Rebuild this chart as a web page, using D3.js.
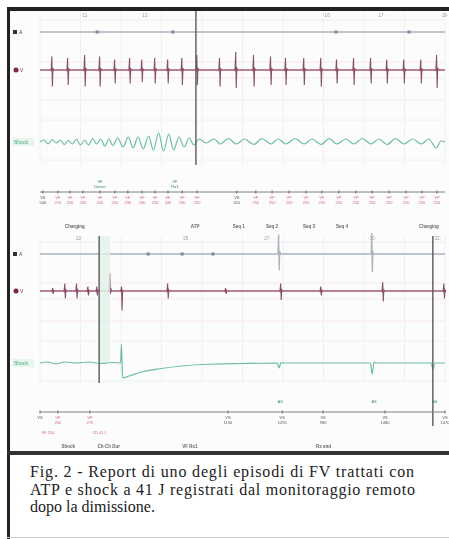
<!DOCTYPE html>
<html>
<head>
<meta charset="utf-8">
<script src="https://cdn.jsdelivr.net/npm/d3@7"></script>
<style>
body { margin: 0; background: #fff; }
svg { display: block; }
</style>
</head>
<body>
<svg id="report"></svg>
<script>
// strip time in seconds, both strips about 10 s wide
var stripDomain = [0, 10]
var gridSeconds = [0, 1, 2, 3, 4, 5, 6, 7, 8, 9, 10]

// ---- top strip (VF detected, ATP during charge)
var topTickTimes = [1.11, 2.59, 7.09, 8.42, 9.98]
var topTickText = ["·11·", "·12·", "·16·", "·17·", "·18·"]
var topAMarks = [1.41, 3.28, 7.31, 9.11]
var topVBeats = [0.30, 0.69, 1.11, 1.48, 1.85, 2.22, 2.52, 2.84, 3.16, 3.51, 3.88, 4.44, 4.84, 5.28, 5.70, 6.07, 6.52, 6.94, 7.33, 7.75, 8.17, 8.57, 8.99, 9.41, 9.80]
var topVUp   = [0.9, 0.8, 1.0, 0.9, 0.7, 0.8, 0.7, 0.8, 0.7, 0.8, 1.0, 0.8, 1.2, 1.0, 0.9, 0.8, 0.8, 0.8, 0.7, 0.8, 0.8, 0.7, 0.7, 0.7, 1.0]
var topVDown = [1.1, 1.0, 1.1, 1.1, 0.9, 0.9, 0.8, 0.9, 0.9, 1.0, 1.0, 1.1, 1.2, 1.1, 1.0, 1.0, 1.0, 1.1, 0.9, 1.0, 0.9, 0.9, 0.9, 0.9, 1.2]
var topShockTrace = [
  [0.00, 0], [0.10, 0.2], [0.20, -0.2], [0.30, 0.25], [0.40, -0.1], [0.50, 0.2], [0.60, -0.25], [0.70, 0.15],
  [0.80, -0.2], [0.90, 0.3], [1.00, -0.3], [1.10, 0.2], [1.20, -0.3], [1.30, 0.35], [1.40, -0.2], [1.50, 0.3],
  [1.60, -0.4], [1.70, 0.3], [1.80, -0.35], [1.92, 0.4], [2.05, -0.5], [2.18, 0.5], [2.30, -0.6], [2.42, 0.5],
  [2.55, -0.7], [2.68, 0.6], [2.80, -0.8], [2.93, 0.9], [3.05, -0.9], [3.18, 0.8], [3.30, -0.8], [3.43, 0.5],
  [3.56, -0.5], [3.68, 0.4], [3.80, -0.3], [3.93, 0.3], [4.10, -0.1], [4.30, 0.3], [4.45, -0.2], [4.65, 0.35],
  [4.85, -0.2], [5.05, 0.3], [5.28, -0.25], [5.48, 0.35], [5.70, -0.2], [5.88, 0.3], [6.07, -0.2], [6.30, 0.35],
  [6.52, -0.2], [6.72, 0.3], [6.94, -0.25], [7.14, 0.35], [7.33, -0.2], [7.55, 0.3], [7.75, -0.2], [7.96, 0.35],
  [8.17, -0.2], [8.37, 0.3], [8.57, -0.25], [8.78, 0.35], [8.99, -0.2], [9.20, 0.3], [9.41, -0.2], [9.60, 0.3],
  [9.78, -0.6], [9.90, 0.1], [10.0, 0]
]
var topEventTimes = [3.85]
var topAboveTimes = [1.48, 3.33]
var topAboveCode = ["VF", "VF"]
var topAboveText = ["Detect", "Rx1"]
var topMarkTimes = [0.07, 0.44, 0.74, 1.06, 1.48, 1.85, 2.17, 2.52, 2.84, 3.16, 3.51, 3.88, 4.86, 5.33, 5.73, 6.15, 6.57, 6.96, 7.38, 7.80, 8.20, 8.62, 9.04, 9.43, 9.80]
var topMarkCode  = ["VS", "VF", "VF", "VF", "VF", "VF", "VF", "VF", "VF", "VF", "VF", "VF", "VS", "VP", "VP", "VP", "VP", "VP", "VP", "VP", "VP", "VP", "VP", "VP", "VP"]
var topMarkMs    = ["540", "270", "250", "260", "240", "250", "230", "240", "250", "240", "230", "250", "310", "250", "250", "250", "250", "250", "250", "250", "250", "250", "250", "250", "250"]
var topStatusTimes = [0.86, 3.83, 4.91, 5.73, 6.64, 7.46, 9.60]
var topStatusText = ["Charging", "ATP", "Seq 1", "Seq 2", "Seq 3", "Seq 4", "Charging"]

// ---- bottom strip (shock 41 J)
var botTickTimes = [0.95, 3.60, 5.60, 8.20, 9.80]
var botTickText = ["·22·", "·25·", "·27·", "·30·", "·32·"]
var botAMarks = [2.67, 3.51, 4.27]
var botASpikes = [5.90, 8.20]
var botAUp = [1.3, 1.4]
var botADown = [1.1, 1.2]
var botVBeats = [0.32, 0.62, 0.91, 1.19, 1.41, 1.73, 2.02, 3.16, 4.59, 5.95, 6.94, 8.47, 9.98]
var botVUp   = [0.2, 0.5, 0.5, 0.3, 0.3, 1.2, 0.3, 0.5, 0.2, 0.5, 0.3, 0.6, 0.5]
var botVDown = [0.2, 0.5, 0.5, 0.3, 0.3, 0.2, 1.3, 0.5, 0.2, 0.6, 0.3, 0.7, 0.5]
var botShockTrace = [
  [0.00, 0], [0.20, 0.1], [0.40, -0.1], [0.60, 0.1], [0.90, 0], [1.20, 0.1], [1.50, -0.05], [1.80, 0.05],
  [1.99, 0], [2.01, 1.9], [2.04, -1.5], [2.20, -1.3], [2.50, -0.9], [3.00, -0.55], [3.50, -0.3], [4.00, -0.15],
  [5.00, -0.05], [5.86, 0], [5.90, -0.5], [5.95, 0.05], [6.00, 0], [8.16, 0], [8.20, -1.1], [8.25, 0.1],
  [8.30, 0], [9.66, 0], [9.70, -0.6], [9.75, 0], [10.0, 0]
]
var botEventTimes = [1.46, 9.70]
var botShockBand = [1.46, 1.73]
var botAboveTimes = [5.93, 8.25, 9.75]
var botMarkTimes = [0.00, 0.44, 1.23, 4.64, 5.98, 6.99, 8.52, 10.0]
var botMarkCode  = ["VS", "VF", "VF", "VS", "VS", "VS", "VS", "VS"]
var botMarkMs    = ["", "260", "270", "1130", "1290", "980", "1480", "1470"]
var botLowTimes  = [0.20, 1.46]
var botLowText   = ["VF 250", "CD 41J"]
var botStatusTimes = [0.70, 1.70, 3.70, 7.00]
var botStatusText = ["Shock", "Ch-Ch Dur", "VF Rx1", "Rx end"]

var width = 449,
    height = 539

var svg = d3.select("#report")
    .attr("width", width)
    .attr("height", height)
    .style("font-family", "'Liberation Sans', Arial, sans-serif")

// the printed strip is a soft scan
svg.append("defs").append("filter").attr("id", "soft")
  .append("feGaussianBlur").attr("stdDeviation", 0.35)

var x = d3.scaleLinear().domain(stripDomain).range([40, 445])

var spikeShape = [[-0.025, 0], [-0.008, 1], [0.006, -1], [0.02, 0.15], [0.035, 0]]

// baseline with spikes put in at each beat
function spikeTrace(times, ups, downs) {
  var pts = [[stripDomain[0], 0]]
  times.forEach(function(t, i) {
    spikeShape.forEach(function(s) {
      pts.push([t + s[0], s[1] > 0 ? s[1] * ups[i] : s[1] * downs[i]])
    })
  })
  pts.push([stripDomain[1], 0])
  return pts
}

function strip(g, rows, data) {
  // faint grid
  g.selectAll(".grid").data(gridSeconds).enter().append("line")
    .attr("x1", d => x(d)).attr("x2", d => x(d))
    .attr("y1", rows.top).attr("y2", rows.gridBottom)
    .attr("stroke", "#eef0f2").attr("stroke-width", 1)
  ;[rows.a - 12, rows.v - 8, rows.v + 8, rows.v + 30, rows.shock - 22, rows.shock + 18].forEach(function(yy, i) {
    g.append("line").attr("x1", 40).attr("x2", 445).attr("y1", yy).attr("y2", yy)
      .attr("stroke", i < 4 ? "#f8e8ee" : "#e8f5ef").attr("stroke-width", 1)
  })

  // tick labels on top
  g.selectAll(".tick").data(data.tickTimes).enter().append("text")
    .attr("x", d => x(d)).attr("y", rows.tick)
    .attr("text-anchor", "middle").attr("font-size", 4.5).attr("fill", "#999")
    .text((d, i) => data.tickText[i])

  // channel labels
  g.append("rect").attr("x", 13).attr("y", rows.a - 2).attr("width", 4).attr("height", 4).attr("fill", "#333")
  g.append("text").attr("x", 19).attr("y", rows.a + 2).attr("font-size", 5).attr("fill", "#445").text("A")
  g.append("circle").attr("cx", 16).attr("cy", rows.v).attr("r", 2.5).attr("fill", "#7b2848")
  g.append("text").attr("x", 20).attr("y", rows.v + 2).attr("font-size", 5).attr("fill", "#7b2848").text("V")
  g.append("rect").attr("x", 12).attr("y", rows.shock - 4).attr("width", 22).attr("height", 8).attr("fill", "#e6f5ed")
  g.append("text").attr("x", 14).attr("y", rows.shock + 2).attr("font-size", 5).attr("fill", "#4aa67c").text("Shock")

  var yA = d3.scaleLinear().domain([-1, 1]).range([rows.a + 15, rows.a - 15])
  var yV = d3.scaleLinear().domain([-1, 1]).range([rows.v + 15, rows.v - 15])
  var yS = d3.scaleLinear().domain([-1, 1]).range([rows.shock + 10, rows.shock - 10])
  var line = function(ys) { return d3.line().x(d => x(d[0])).y(d => ys(d[1])) }

  // A channel
  g.append("path").datum(spikeTrace(data.aSpikes, data.aUp, data.aDown))
    .attr("d", line(yA)).attr("fill", "none").attr("stroke", "#a9b4be").attr("stroke-width", 1.3)
  g.selectAll(".amark").data(data.aMarks).enter().append("rect")
    .attr("x", d => x(d) - 1.5).attr("y", rows.a - 1.5).attr("width", 3).attr("height", 3).attr("fill", "#7d8893")

  // V channel
  g.append("line").attr("x1", 40).attr("x2", 445).attr("y1", rows.v).attr("y2", rows.v)
    .attr("stroke", "#eab3c3").attr("stroke-width", 2.2)
  g.append("path").datum(spikeTrace(data.vBeats, data.vUp, data.vDown))
    .attr("d", line(yV)).attr("fill", "none").attr("stroke", "#86506a").attr("stroke-width", 1.1)
  g.selectAll(".vdot").data(data.vBeats).enter().append("circle")
    .attr("cx", d => x(d)).attr("cy", rows.v).attr("r", 1.5).attr("fill", "#94506e")

  // shock channel
  if (data.band) {
    g.append("rect").attr("x", x(data.band[0])).attr("y", rows.top)
      .attr("width", x(data.band[1]) - x(data.band[0])).attr("height", rows.shock - rows.top)
      .attr("fill", "#e2f3e8").attr("opacity", 0.8)
  }
  g.append("path").datum(data.shock)
    .attr("d", line(yS).curve(d3.curveMonotoneX)).attr("fill", "none")
    .attr("stroke", "#6fbf9c").attr("stroke-width", 1.2)

  // event lines
  g.selectAll(".event").data(data.events).enter().append("line")
    .attr("x1", d => x(d)).attr("x2", d => x(d))
    .attr("y1", rows.top).attr("y2", (d, i) => i === data.events.length - 1 && data.longLast ? rows.marker + 14 : rows.gridBottom)
    .attr("stroke", "#5a5a5a").attr("stroke-width", 1.4)

  // marker channel
  g.append("line").attr("x1", 40).attr("x2", 445).attr("y1", rows.marker).attr("y2", rows.marker)
    .attr("stroke", "#808080").attr("stroke-width", 1)
  g.selectAll(".mtick").data(data.markTimes).enter().append("line")
    .attr("x1", d => x(d)).attr("x2", d => x(d))
    .attr("y1", rows.marker - 1.5).attr("y2", rows.marker + 1.5)
    .attr("stroke", "#666").attr("stroke-width", 1)
  var above = g.selectAll(".above").data(data.aboveTimes).enter().append("text")
    .attr("x", d => x(d)).attr("text-anchor", "middle").attr("font-size", 4).attr("fill", "#3d7f86")
  above.append("tspan").attr("x", d => x(d)).attr("y", rows.marker - 9).text((d, i) => data.aboveCode[i])
  above.append("tspan").attr("x", d => x(d)).attr("y", rows.marker - 4).text((d, i) => data.aboveText[i])

  var marks = g.selectAll(".mark").data(data.markTimes).enter().append("text")
    .attr("text-anchor", "middle").attr("font-size", 4)
    .attr("fill", (d, i) => data.markCode[i] === "VS" ? "#555" : "#d0668a")
  marks.append("tspan").attr("x", d => x(d)).attr("y", rows.marker + 7).text((d, i) => data.markCode[i])
  marks.append("tspan").attr("x", d => x(d)).attr("y", rows.marker + 12).text((d, i) => data.markMs[i])

  if (data.lowTimes) {
    g.selectAll(".low").data(data.lowTimes).enter().append("text")
      .attr("x", d => x(d)).attr("y", rows.marker + 22)
      .attr("text-anchor", "middle").attr("font-size", 4).attr("fill", "#d0668a")
      .text((d, i) => data.lowText[i])
  }

  g.selectAll(".status").data(data.statusTimes).enter().append("text")
    .attr("x", d => x(d)).attr("y", rows.status)
    .attr("text-anchor", "middle").attr("font-size", 4.5).attr("font-weight", "bold").attr("fill", "#666")
    .text((d, i) => data.statusText[i])
}

// frame
svg.append("rect").attr("x", 10).attr("y", 10).attr("width", 439).attr("height", 442).attr("fill", "#fcfcfd")

strip(svg.append("g").attr("filter", "url(#soft)"),
  { top: 11, gridBottom: 165, tick: 17, a: 32, v: 70, shock: 142, marker: 192, status: 228 },
  { tickTimes: topTickTimes, tickText: topTickText, aMarks: topAMarks, aSpikes: [], aUp: [], aDown: [],
    vBeats: topVBeats, vUp: topVUp, vDown: topVDown, shock: topShockTrace, events: topEventTimes,
    aboveTimes: topAboveTimes, aboveCode: topAboveCode, aboveText: topAboveText,
    markTimes: topMarkTimes, markCode: topMarkCode, markMs: topMarkMs,
    statusTimes: topStatusTimes, statusText: topStatusText })

strip(svg.append("g").attr("filter", "url(#soft)"),
  { top: 236, gridBottom: 383, tick: 240, a: 254, v: 291, shock: 363, marker: 412, status: 448 },
  { tickTimes: botTickTimes, tickText: botTickText, aMarks: botAMarks, aSpikes: botASpikes, aUp: botAUp, aDown: botADown,
    vBeats: botVBeats, vUp: botVUp, vDown: botVDown, shock: botShockTrace, events: botEventTimes, band: botShockBand,
    longLast: true,
    aboveTimes: botAboveTimes, aboveCode: ["AS", "AS", "AS"], aboveText: ["", "", ""],
    markTimes: botMarkTimes, markCode: botMarkCode, markMs: botMarkMs,
    lowTimes: botLowTimes, lowText: botLowText,
    statusTimes: botStatusTimes, statusText: botStatusText })

// borders
svg.append("rect").attr("x", 7).attr("y", 7).attr("width", 442).attr("height", 4).attr("fill", "#222")
svg.append("rect").attr("x", 7).attr("y", 7).attr("width", 3).attr("height", 532).attr("fill", "#222")
svg.append("rect").attr("x", 7).attr("y", 451).attr("width", 442).attr("height", 4).attr("fill", "#333")
svg.append("line").attr("x1", 7).attr("x2", 449).attr("y1", 537.5).attr("y2", 537.5).attr("stroke", "#ccc")

// caption, first two lines justified like the printed page
var caption = ["Fig. 2 - Report di uno degli episodi di FV trattati con",
               "ATP e shock a 41 J registrati dal monitoraggio remoto",
               "dopo la dimissione."]
var captionWidth = [384, 385, null]
svg.selectAll(".caption").data(caption).enter().append("text")
  .attr("x", 30).attr("y", (d, i) => 477 + i * 17.5)
  .attr("font-family", "'Liberation Serif', 'Times New Roman', serif")
  .attr("font-size", 16).attr("fill", "#222")
  .attr("textLength", (d, i) => captionWidth[i])
  .attr("lengthAdjust", "spacing")
  .text(d => d)
</script>
</body>
</html>
